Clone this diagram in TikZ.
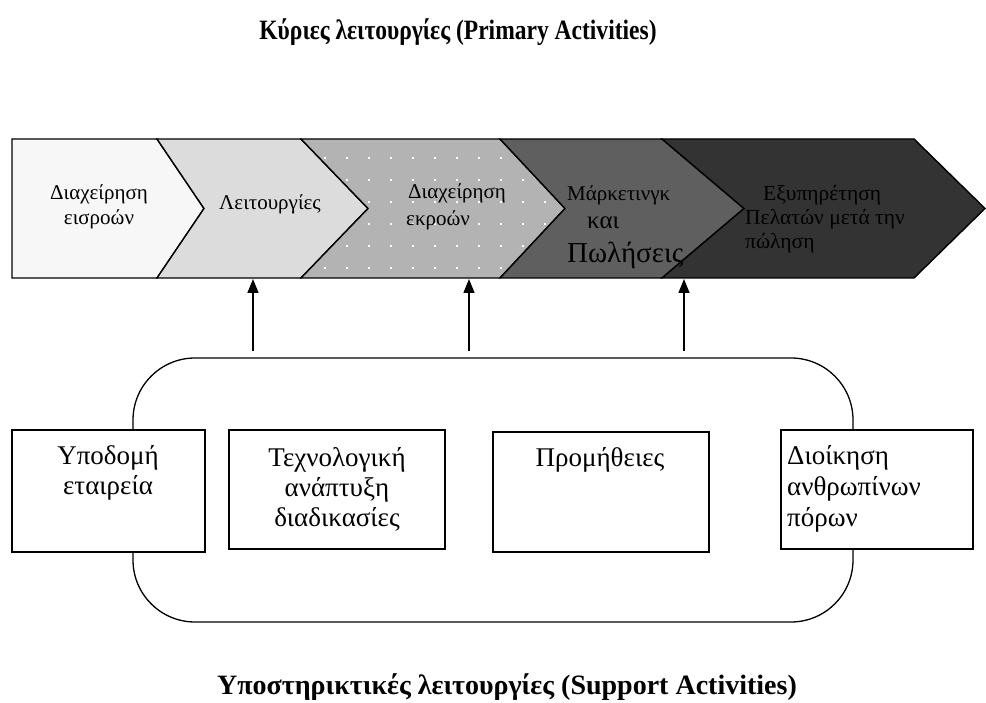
\documentclass[tikz,border=0pt]{standalone}
\usepackage{fontspec}
\setmainfont{Liberation Serif}
\newfontfamily\headfont[FakeStretch=0.84]{Liberation Serif}
\usetikzlibrary{arrows.meta}

\definecolor{chevA}{HTML}{F7F7F7}
\definecolor{chevB}{HTML}{DCDCDC}
\definecolor{chevC}{HTML}{B3B3B3}
\definecolor{chevD}{HTML}{5F5F5F}
\definecolor{chevE}{HTML}{333333}

\tikzset{
  chev/.style={draw=black, line width=1.4pt, line join=miter},
  chevtext/.style={inner sep=0pt, font=\fontsize{21}{25}\selectfont},
  boxnode/.style={draw=black, line width=1.6pt, fill=white, inner sep=0pt},
  boxtext/.style={inner sep=0pt, font=\fontsize{27}{30}\selectfont},
  frame/.style={draw=black, line width=1.3pt, rounded corners=62pt, inner sep=0pt},
  arr/.style={line width=1.5pt, -{Triangle[length=14pt, width=11pt]}},
  headline/.style={inner sep=0pt, font=\headfont\bfseries\fontsize{28}{32}\selectfont},
  footline/.style={inner sep=0pt, font=\bfseries\fontsize{28}{32}\selectfont}
}

\begin{document}
\begin{tikzpicture}[x=1pt, y=-1pt]
\useasboundingbox (0,0) rectangle (986,703);
\fill[white] (0,0) rectangle (986,703);

% headings
\node[headline] (toptitle) at (458,32) {Κύριες λειτουργίες (Primary Activities)};
\node[footline] (bottitle) at (507,687) {Υποστηρικτικές λειτουργίες (Support Activities)};

% value chain band: five chevrons
\filldraw[chev, fill=chevA] (12,139) -- (157,139) -- (204,208.5) -- (157,278) -- (12,278) -- cycle;
\filldraw[chev, fill=chevB] (157,139) -- (301,139) -- (368,208.5) -- (301,278) -- (157,278) -- (204,208.5) -- cycle;
\filldraw[chev, fill=chevC] (301,139) -- (500,139) -- (565,208.5) -- (500,278) -- (301,278) -- (368,208.5) -- cycle;
\begin{scope}
  \clip (301,139) -- (500,139) -- (565,208.5) -- (500,278) -- (301,278) -- (368,208.5) -- cycle;
  \foreach \x in {325,347,...,545}
    \foreach \y in {158,180,...,270}
      \fill[white] (\x-1.2,\y-1.2) rectangle (\x+1.2,\y+1.2);
\end{scope}
\filldraw[chev, fill=chevD] (500,139) -- (662,139) -- (744,208.5) -- (662,278) -- (500,278) -- (565,208.5) -- cycle;
\filldraw[chev, fill=chevE] (662,139) -- (914,139) -- (985,208.5) -- (914,278) -- (662,278) -- (744,208.5) -- cycle;

% chevron labels
\node[chevtext, align=center] (inlog) at (99,207) {Διαχείρηση\\εισροών};
\node[chevtext] (oper) at (270,204) {Λειτουργίες};
\node[chevtext, align=left, anchor=west, font=\fontsize{21}{27}\selectfont] (outlog) at (406,207) {\hspace*{2pt}Διαχείρηση\\εκροών};
\node[chevtext, anchor=west] (mkt1) at (567,195) {Μάρκετινγκ};
\node[chevtext, anchor=west, font=\fontsize{25}{28}\selectfont] (mkt2) at (587,223) {και};
\node[chevtext, anchor=west, font=\fontsize{29}{32}\selectfont] (mkt3) at (567,255) {Πωλήσεις};
\node[chevtext, align=left, anchor=west, font=\fontsize{21.5}{24}\selectfont] (serv) at (745,219) {\hspace*{18pt}Εξυπηρέτηση\\Πελατών μετά την\\πώληση};

% support frame
\node[frame, minimum width=720pt, minimum height=264pt] (frame) at (493,490) {};

% support activity boxes
\node[boxnode, minimum width=193pt, minimum height=122pt] (infra) at (108.5,491) {};
\node[boxnode, minimum width=216pt, minimum height=119pt] (tech) at (337,489.5) {};
\node[boxnode, minimum width=216pt, minimum height=120pt] (proc) at (601,492) {};
\node[boxnode, minimum width=192pt, minimum height=119pt] (hrm) at (877,489.5) {};

\node[boxtext, align=center] (infrat) at (108,473) {Υποδομή\\εταιρεία};
\node[boxtext, align=center] (techt) at (337,489) {Τεχνολογική\\ανάπτυξη\\διαδικασίες};
\node[boxtext] (proct) at (600,460) {Προμήθειες};
\node[boxtext, align=left, anchor=west, font=\fontsize{27}{31}\selectfont] (hrmt) at (787,489) {Διοίκηση\\ανθρωπίνων\\πόρων};

% arrows from the support frame up to the band
\coordinate (fromA) at (253,351);
\coordinate (toA) at (253,279);
\coordinate (fromB) at (469,351);
\coordinate (toB) at (469,279);
\coordinate (fromC) at (684,351);
\coordinate (toC) at (684,279);
\draw[arr] (fromA) -- (toA);
\draw[arr] (fromB) -- (toB);
\draw[arr] (fromC) -- (toC);
\end{tikzpicture}
\end{document}
